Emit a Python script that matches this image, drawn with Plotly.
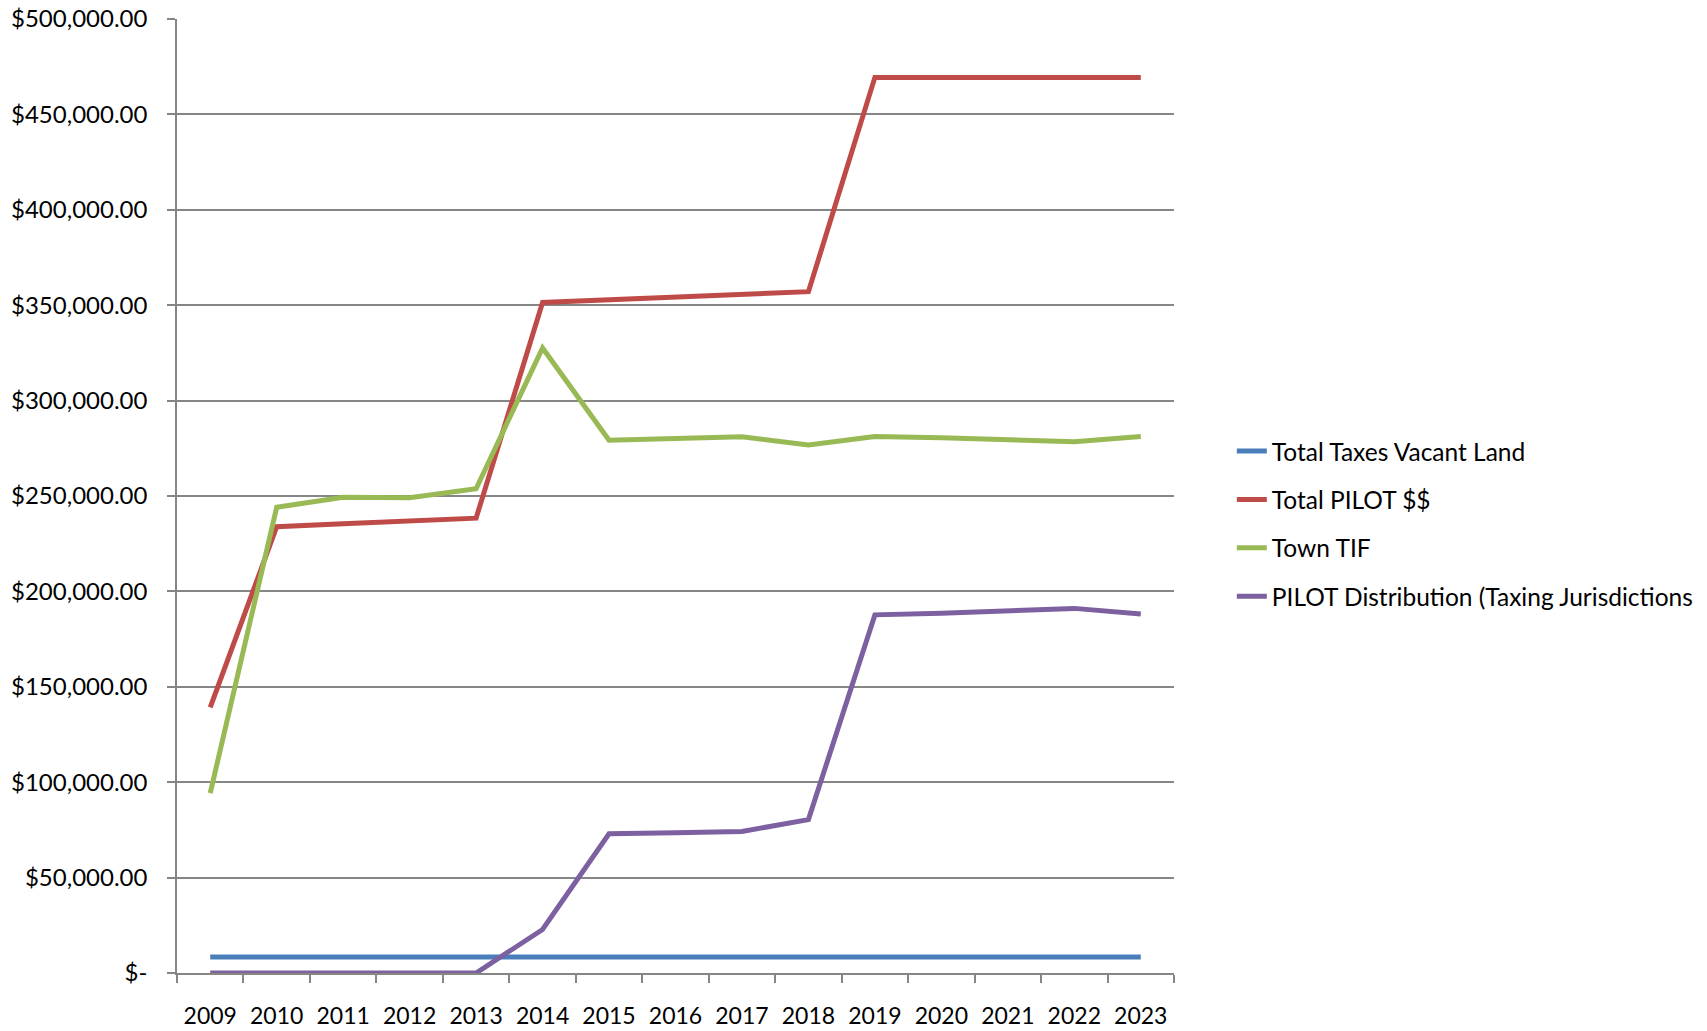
import plotly.graph_objects as go

years = ["2009", "2010", "2011", "2012", "2013", "2014", "2015", "2016",
         "2017", "2018", "2019", "2020", "2021", "2022", "2023"]

total_taxes_vacant_land = [8400] * 15
total_pilot = [139200, 233900, 235400, 236900, 238400, 351400, 352800, 354200,
               355600, 357100, 469400, 469400, 469400, 469400, 469400]
town_tif = [94300, 244100, 249300, 249100, 253800, 327600, 279200, 280200,
            281000, 276700, 281200, 280500, 279700, 278400, 281200]
pilot_distribution = [0, 0, 0, 0, 0, 22800, 73000, 73500,
                      74200, 80400, 187700, 188500, 189500, 191100, 188200]

series_names = ["Total Taxes Vacant Land", "Total PILOT $$", "Town TIF",
                "PILOT Distribution (Taxing Jurisdictions"]
series_colors = ["#4A7EBB", "#BE4B48", "#98B954", "#7D60A0"]

y_tickvals = [0, 50000, 100000, 150000, 200000, 250000, 300000, 350000, 400000, 450000, 500000]
y_ticktext = ["$-", "$50,000.00", "$100,000.00", "$150,000.00", "$200,000.00", "$250,000.00",
              "$300,000.00", "$350,000.00", "$400,000.00", "$450,000.00", "$500,000.00"]

fig = go.Figure()
for i, (name, vals, col) in enumerate(zip(series_names,
                           [total_taxes_vacant_land, total_pilot, town_tif, pilot_distribution],
                           series_colors)):
    fig.add_trace(go.Scatter(x=years, y=vals, name=name, mode="lines",
                             legendgroup="g%d" % i,
                             line=dict(color=col, width=5)))

font_family = "Lato, 'Open Sans', sans-serif"
fig.update_layout(
    width=1707, height=1031,
    margin=dict(l=177, r=533, t=19, b=58, autoexpand=False),
    paper_bgcolor="white", plot_bgcolor="white",
    font=dict(family=font_family, size=24, color="black"),
    showlegend=True,
    legend=dict(x=1.058, y=0.471, xanchor="left", yanchor="middle",
                font=dict(size=24.5, family=font_family, color="black"),
                tracegroupgap=13.5, itemwidth=30, bgcolor="rgba(0,0,0,0)",
                traceorder="grouped"),
    xaxis=dict(type="category", range=[-0.5, 14.5], tickson="boundaries",
               showline=True, linecolor="#868686", linewidth=1.5,
               ticks="outside", ticklen=8, tickcolor="#868686", tickwidth=1.5,
               showgrid=False, zeroline=False, ticklabelstandoff=22,
               automargin=False, tickfont=dict(size=23)),
    yaxis=dict(range=[0, 500000], tickvals=y_tickvals, ticktext=y_ticktext,
               showline=True, linecolor="#868686", linewidth=1.5,
               ticks="outside", ticklen=8, tickcolor="#868686", tickwidth=1.5,
               showgrid=True, gridcolor="#868686", gridwidth=1.5, zeroline=False,
               automargin=False, ticklabelstandoff=15, tickfont=dict(size=24)),
)

fig.write_html("out.html")
